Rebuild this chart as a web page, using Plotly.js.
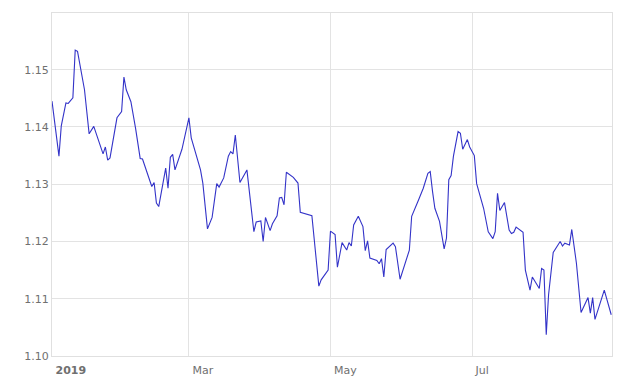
<!DOCTYPE html>
<html>
<head>
<meta charset="utf-8">
<script src="https://cdn.plot.ly/plotly-3.0.1.min.js"></script>
<style>html,body{margin:0;padding:0;background:#fff;}#chart{width:619px;height:385px;}</style>
</head>
<body>
<div id="chart"></div>
<script>
const dates = [
"2019-01-01","2019-01-04","2019-01-05","2019-01-07","2019-01-08","2019-01-10","2019-01-11","2019-01-12","2019-01-15","2019-01-17",
"2019-01-19","2019-01-23","2019-01-24","2019-01-25","2019-01-26","2019-01-29","2019-01-31","2019-02-01","2019-02-02","2019-02-04",
"2019-02-06","2019-02-08","2019-02-09","2019-02-13","2019-02-14","2019-02-15","2019-02-16","2019-02-19","2019-02-20","2019-02-21",
"2019-02-22","2019-02-23","2019-02-26","2019-03-01","2019-03-02","2019-03-06","2019-03-07","2019-03-09","2019-03-11","2019-03-13",
"2019-03-14","2019-03-16","2019-03-18","2019-03-19","2019-03-20","2019-03-21","2019-03-23","2019-03-26","2019-03-29","2019-03-30",
"2019-04-01","2019-04-02","2019-04-03","2019-04-05","2019-04-06","2019-04-08","2019-04-09","2019-04-10","2019-04-11","2019-04-12",
"2019-04-15","2019-04-17","2019-04-18","2019-04-23","2019-04-26","2019-04-27","2019-04-30","2019-05-01","2019-05-03","2019-05-04",
"2019-05-06","2019-05-08","2019-05-09","2019-05-10","2019-05-11","2019-05-13","2019-05-15","2019-05-16","2019-05-17","2019-05-18",
"2019-05-21","2019-05-22","2019-05-23","2019-05-24","2019-05-25","2019-05-28","2019-05-29","2019-05-31","2019-06-04","2019-06-05",
"2019-06-08","2019-06-10","2019-06-12","2019-06-13","2019-06-14","2019-06-15","2019-06-17","2019-06-19","2019-06-20","2019-06-21",
"2019-06-22","2019-06-23","2019-06-25","2019-06-26","2019-06-27","2019-06-29","2019-06-30","2019-07-02","2019-07-03","2019-07-04",
"2019-07-06","2019-07-08","2019-07-10","2019-07-11","2019-07-12","2019-07-13","2019-07-15","2019-07-17","2019-07-18","2019-07-19",
"2019-07-20","2019-07-23","2019-07-24","2019-07-26","2019-07-27","2019-07-30","2019-07-31","2019-08-01","2019-08-02","2019-08-03",
"2019-08-05","2019-08-08","2019-08-09","2019-08-10","2019-08-12","2019-08-13","2019-08-15","2019-08-17","2019-08-20","2019-08-21",
"2019-08-22","2019-08-23","2019-08-27","2019-08-30"
];
const rates = [
1.1445,1.1349,1.1402,1.1442,1.1441,1.1451,1.1534,1.1532,1.1465,1.1388,
1.1401,1.1353,1.1365,1.1342,1.1346,1.1416,1.1427,1.1487,1.1465,1.1444,
1.1398,1.1345,1.1344,1.1296,1.1303,1.1267,1.1261,1.1328,1.1293,1.1347,
1.1352,1.1325,1.1361,1.1416,1.1381,1.1325,1.1302,1.1222,1.1242,1.1301,
1.1295,1.1311,1.1349,1.1357,1.1353,1.1386,1.1303,1.1325,1.1217,1.1234,
1.1236,1.1200,1.1242,1.1219,1.1231,1.1245,1.1276,1.1277,1.1264,1.1321,
1.1312,1.1302,1.1251,1.1245,1.1122,1.1133,1.1150,1.1218,1.1212,1.1155,
1.1198,1.1185,1.1198,1.1192,1.1229,1.1244,1.1226,1.1184,1.1201,1.1171,
1.1167,1.1161,1.1170,1.1138,1.1186,1.1197,1.1191,1.1134,1.1185,1.1244,
1.1273,1.1293,1.1319,1.1322,1.1287,1.1258,1.1235,1.1187,1.1206,1.1308,
1.1315,1.1349,1.1392,1.1389,1.1361,1.1378,1.1365,1.1350,1.1301,1.1287,
1.1258,1.1217,1.1205,1.1217,1.1284,1.1254,1.1268,1.1220,1.1214,1.1216,
1.1225,1.1216,1.1150,1.1115,1.1138,1.1118,1.1153,1.1150,1.1037,1.1107,
1.1181,1.1200,1.1192,1.1197,1.1194,1.1221,1.1162,1.1076,1.1102,1.1075,
1.1102,1.1064,1.1115,1.1072
];
const xTickVals = ["2019-01-01","2019-03-01","2019-05-01","2019-07-01"];
const xTickText = ["<b>2019</b>","Mar","May","Jul"];
const yTickVals = [1.10,1.11,1.12,1.13,1.14,1.15];
const yTickText = ["1.10","1.11","1.12","1.13","1.14","1.15"];

const trace = {
  x: dates, y: rates, type: "scatter", mode: "lines",
  line: {color: "#3333c8", width: 1.1},
  hoverinfo: "x+y"
};
const layout = {
  width: 619, height: 385,
  margin: {l: 52, r: 7, t: 13, b: 29},
  paper_bgcolor: "#ffffff", plot_bgcolor: "#ffffff",
  showlegend: false,
  font: {family: "DejaVu Sans, Verdana, sans-serif", size: 11, color: "#666666"},
  xaxis: {
    type: "date",
    range: ["2019-01-01", "2019-08-30 08:00"],
    tickmode: "array", tickvals: xTickVals, ticktext: xTickText,
    ticklabelposition: "outside right",
    ticklabelstandoff: 4,
    ticklabelshift: 3,
    showgrid: true, gridcolor: "#e3e3e3", gridwidth: 1,
    showline: true, linecolor: "#e0e0e0", linewidth: 1, mirror: true,
    zeroline: false, ticks: "",
    tickfont: {size: 11, color: "#707070"}
  },
  yaxis: {
    range: [1.10, 1.1599],
    tickmode: "array", tickvals: yTickVals, ticktext: yTickText,
    showgrid: true, gridcolor: "#e3e3e3", gridwidth: 1,
    showline: true, linecolor: "#e0e0e0", linewidth: 1, mirror: true,
    zeroline: false, ticks: "", ticklen: 0,
    tickfont: {size: 11, color: "#707070"}
  }
};
Plotly.newPlot("chart", [trace], layout, {displayModeBar: false, staticPlot: true});
</script>
</body>
</html>
